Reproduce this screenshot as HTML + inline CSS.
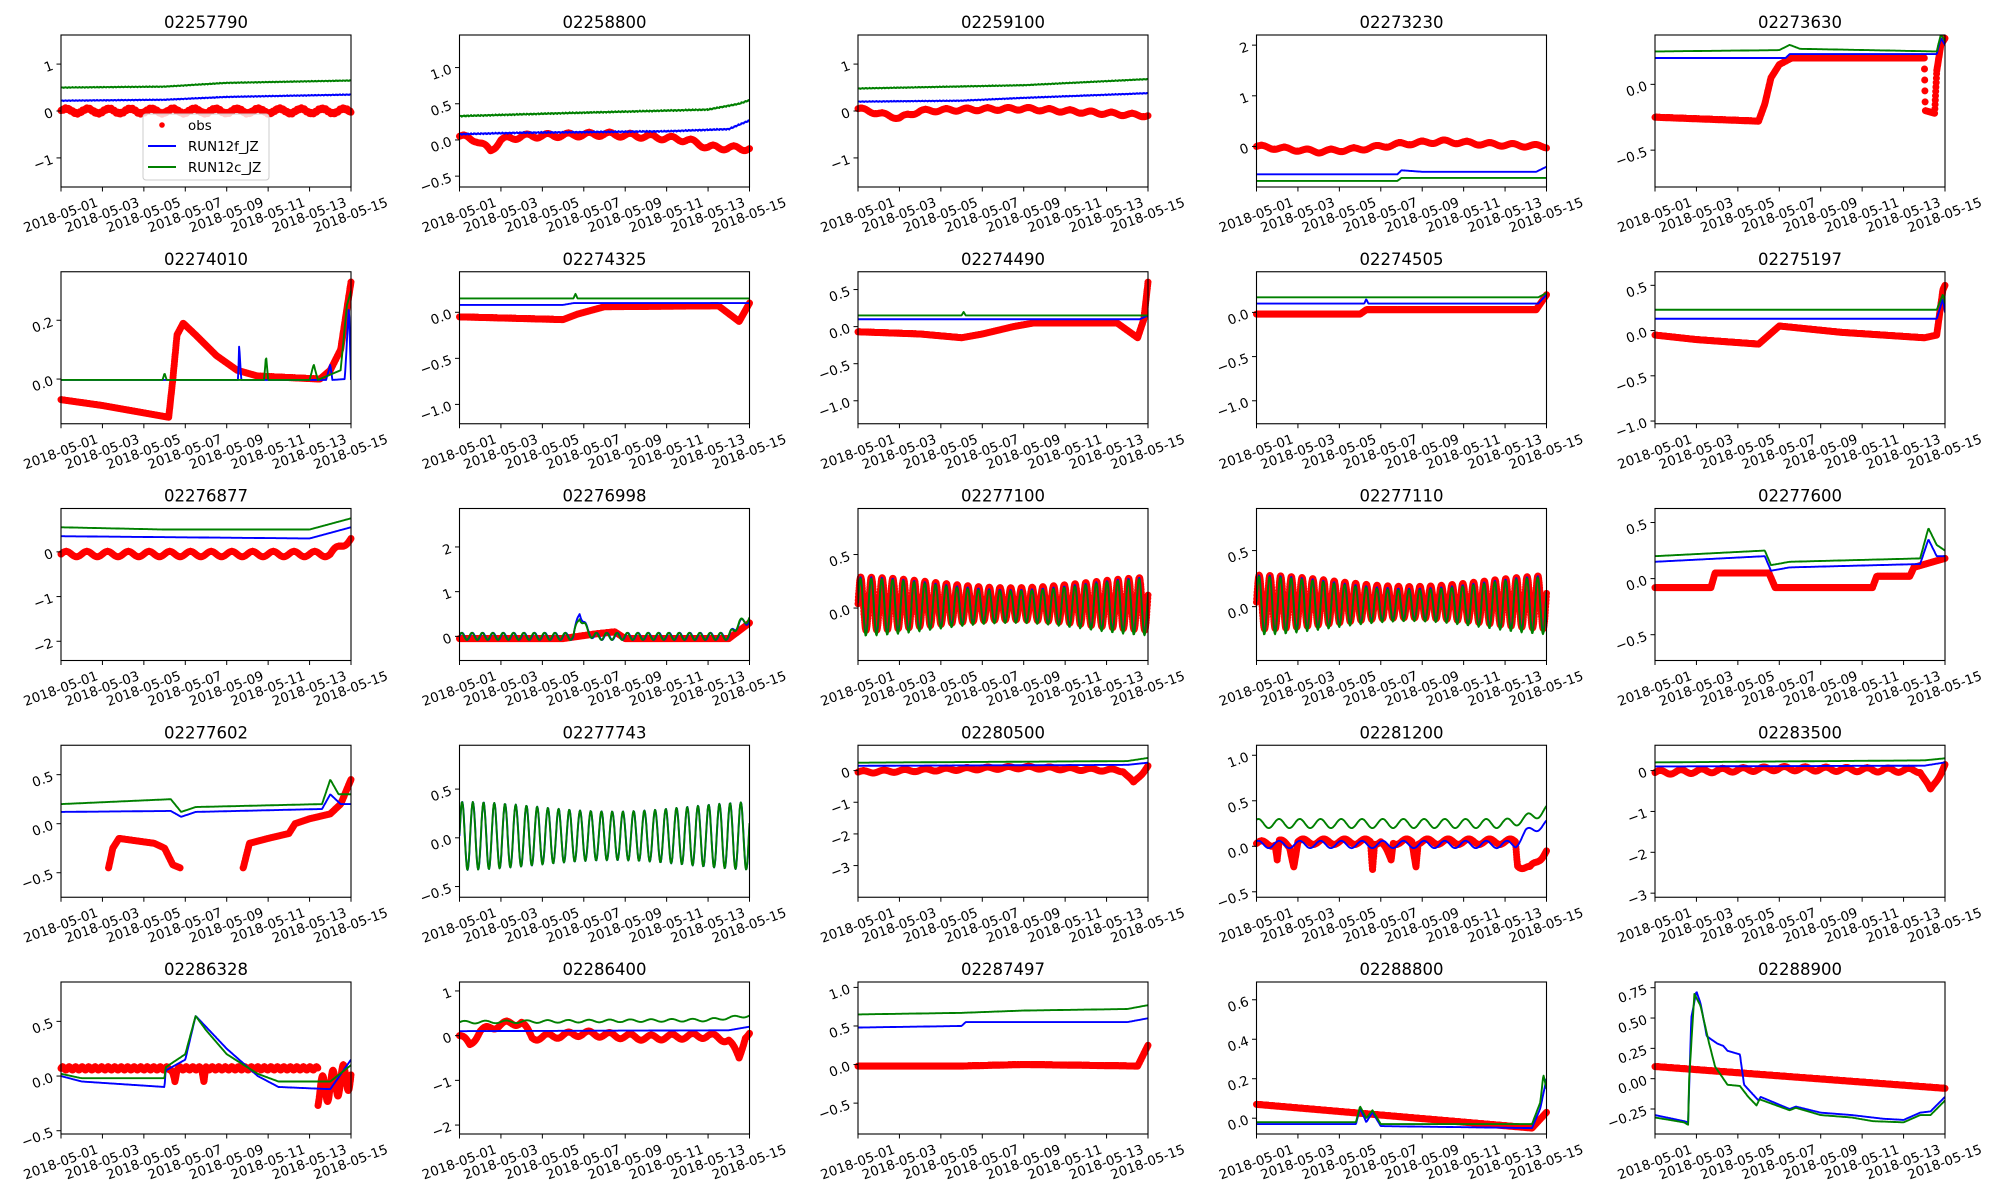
<!DOCTYPE html>
<html><head><meta charset="utf-8"><style>
html,body{margin:0;padding:0;background:#fff;width:2000px;height:1200px;overflow:hidden}
svg{display:block}
text{font-family:"DejaVu Sans","Liberation Sans",sans-serif;fill:#000}
</style></head><body>
<svg id="s" width="2000" height="1200" xmlns="http://www.w3.org/2000/svg"></svg>
<script>
const W=290,H=152;
function pw(p){return t=>{if(t<=p[0][0])return p[0][1];for(let i=1;i<p.length;i++){if(t<=p[i][0]){const a=p[i-1],b=p[i];return a[1]+(b[1]-a[1])*(t-a[0])/(b[0]-a[0]||1);}}return p[p.length-1][1];};}
function wig(a,per,ph){ph=ph||0;return t=>a*Math.sin(2*Math.PI*t/per+ph);}
function jit(a){return t=>a*(Math.sin(37*t)+Math.sin(91*t+1))/2;}
function S(...f){return t=>f.reduce((s,g)=>s+g(t),0);}
function gap(f,ranges){return t=>{for(const r of ranges)if(t>=r[0]&&t<=r[1])return NaN;return f(t);};}
function tide(off,a0,a1,ph){return t=>off+(a0+a1*Math.cos(2*Math.PI*t/14.8))*Math.sin(2*Math.PI*t/0.5175+ph);}
const M="\u2212";
const P=[
{t:"02257790",y:[-1.62,1.62],yt:[[1,"1"],[0,"0"],[-1,M+"1"]],
 o:S(wig(0.05,1.03),jit(0.02)),b:S(pw([[0,0.22],[5,0.24],[8,0.3],[14,0.35]]),jit(0.01)),g:S(pw([[0,0.5],[5,0.52],[8,0.6],[14,0.65]]),jit(0.01))},
{t:"02258800",y:[-0.65,1.45],yt:[[1,"1.0"],[0.5,"0.5"],[0,"0.0"],[-0.5,M+"0.5"]],
 o:S(pw([[0,0.05],[0.8,0],[1.5,-0.15],[2,0],[3,0.05],[7,0.08],[9,0.05],[11,0],[12,-0.1],[14,-0.12]]),wig(0.03,1)),b:S(pw([[0,0.08],[3,0.1],[10,0.12],[13,0.15],[14,0.27]]),jit(0.01)),g:S(pw([[0,0.33],[5,0.37],[12,0.42],[13.5,0.5],[14,0.55]]),jit(0.01))},
{t:"02259100",y:[-1.62,1.62],yt:[[1,"1"],[0,"0"],[-1,M+"1"]],
 o:S(pw([[0,0.05],[1,-0.05],[2,-0.15],[3,0],[5,0.03],[8,0.05],[10,0],[14,-0.1]]),wig(0.03,1)),b:S(pw([[0,0.2],[5,0.22],[8,0.28],[14,0.38]]),jit(0.01)),g:S(pw([[0,0.48],[8,0.55],[14,0.68]]),jit(0.01))},
{t:"02273230",y:[-0.8,2.2],yt:[[2,"2"],[1,"1"],[0,"0"]],
 o:S(pw([[0,0],[3,-0.1],[5,-0.05],[7,0.05],[9,0.1],[11,0.05],[14,0]]),wig(0.03,1.1)),b:pw([[0,-0.55],[6.8,-0.55],[7,-0.47],[8,-0.5],[13.5,-0.5],[14,-0.4]]),g:pw([[0,-0.68],[6.8,-0.68],[7,-0.62],[14,-0.62]])},
{t:"02273630",y:[-0.78,0.375],yt:[[0,"0.0"],[-0.5,M+"0.5"]],
 o:pw([[0,-0.25],[5,-0.28],[5.3,-0.15],[5.6,0.05],[6,0.15],[6.6,0.2],[13,0.2],[13.05,-0.2],[13.5,-0.22],[13.6,0.1],[13.8,0.3],[14,0.35]]),b:pw([[0,0.2],[6.3,0.2],[6.5,0.23],[13.6,0.23],[13.8,0.35],[14,0.3]]),g:pw([[0,0.25],[6,0.26],[6.5,0.3],[7,0.27],[13.6,0.25],[13.8,0.38],[14,0.33]])},
{t:"02274010",y:[-0.152,0.365],yt:[[0.2,"0.2"],[0,"0.0"]],
 o:pw([[0,-0.07],[2,-0.09],[5.2,-0.13],[5.4,0],[5.6,0.15],[5.9,0.19],[6.5,0.15],[7.5,0.08],[8.5,0.03],[9.5,0.01],[12.5,0],[13,0.03],[13.5,0.1],[14,0.33]]),
 b:pw([[0,-0.003],[8.55,-0.003],[8.6,0.12],[8.7,-0.003],[12.8,-0.003],[13,0.05],[13.1,-0.003],[13.7,0],[13.9,0.25],[14,-0.003]]),
 g:pw([[0,-0.003],[4.9,-0.003],[5,0.02],[5.1,-0.003],[9.8,-0.003],[9.9,0.08],[10,-0.003],[12,-0.003],[12.2,0.05],[12.4,-0.003],[13.5,0.03],[13.8,0.25],[14,0.3]])},
{t:"02274325",y:[-1.21,0.44],yt:[[0,"0.0"],[-0.5,M+"0.5"],[-1,M+"1.0"]],
 o:pw([[0,-0.05],[5,-0.08],[5.7,-0.02],[7,0.06],[12.5,0.07],[13.5,-0.1],[14,0.1]]),b:pw([[0,0.08],[5,0.08],[5.5,0.1],[14,0.1]]),g:pw([[0,0.15],[5.5,0.15],[5.6,0.2],[5.7,0.15],[14,0.15]])},
{t:"02274490",y:[-1.31,0.74],yt:[[0.5,"0.5"],[0,"0.0"],[-0.5,M+"0.5"],[-1,M+"1.0"]],
 o:pw([[0,-0.07],[3,-0.1],[5,-0.15],[6,-0.1],[7.5,0],[8.5,0.05],[12.5,0.05],[13.5,-0.15],[13.8,0.1],[14,0.6]]),b:pw([[0,0.1],[13.6,0.1],[14,0.15]]),g:pw([[0,0.15],[5,0.15],[5.1,0.2],[5.2,0.15],[14,0.15]])},
{t:"02274505",y:[-1.26,0.46],yt:[[0,"0.0"],[-0.5,M+"0.5"],[-1,M+"1.0"]],
 o:pw([[0,-0.02],[5,-0.02],[5.3,0.03],[13.5,0.03],[14,0.2]]),b:pw([[0,0.1],[5.2,0.1],[5.3,0.15],[5.4,0.1],[13.6,0.1],[14,0.2]]),g:pw([[0,0.17],[13.6,0.17],[14,0.22]])},
{t:"02275197",y:[-1.03,0.65],yt:[[0.5,"0.5"],[0,"0.0"],[-0.5,M+"0.5"],[-1,M+"1.0"]],
 o:pw([[0,-0.05],[2,-0.1],[5,-0.15],[5.5,-0.05],[6,0.05],[9,-0.02],[13,-0.08],[13.6,-0.05],[13.9,0.45],[14,0.5]]),b:pw([[0,0.13],[13.6,0.13],[13.9,0.35],[14,0.2]]),g:pw([[0,0.23],[13.6,0.23],[13.9,0.4],[14,0.3]])},
{t:"02276877",y:[-2.43,0.97],yt:[[0,"0"],[-1,M+"1"],[-2,M+"2"]],
 o:S(pw([[0,-0.05],[13,-0.05],[14,0.3]]),wig(0.06,1)),b:pw([[0,0.35],[12,0.3],[14,0.55]]),g:pw([[0,0.55],[5,0.5],[12,0.5],[14,0.75]])},
{t:"02276998",y:[-0.54,2.86],yt:[[2,"2"],[1,"1"],[0,"0"]],
 o:pw([[0,-0.05],[5,-0.05],[6.5,0.05],[7.5,0.1],[8,-0.05],[13,-0.05],[14,0.3]]),
 b:S(wig(0.08,0.5),pw([[0,0],[5.5,0],[5.8,0.55],[6.2,0.1],[6.5,0],[13,0],[13.5,0.3],[14,0.35]])),
 g:S(wig(0.08,0.5,0.3),pw([[0,0],[5.5,0],[5.8,0.45],[6.2,0.1],[6.5,0],[13,0],[13.5,0.3],[14,0.4]]))},
{t:"02277100",y:[-0.49,0.93],yt:[[0.5,"0.5"],[0,"0.0"]],o:tide(0.04,0.2,0.05,0),b:tide(0.02,0.21,0.06,0.1),g:tide(0.01,0.21,0.06,0.15)},
{t:"02277110",y:[-0.48,0.875],yt:[[0.5,"0.5"],[0,"0.0"]],o:tide(0.04,0.19,0.05,0),b:tide(0.02,0.2,0.06,0.1),g:tide(0.01,0.2,0.06,0.15)},
{t:"02277600",y:[-0.73,0.625],yt:[[0.5,"0.5"],[0,"0.0"],[-0.5,M+"0.5"]],
 o:pw([[0,-0.08],[2.7,-0.08],[2.9,0.05],[5.5,0.05],[5.8,-0.08],[10.5,-0.08],[10.7,0.02],[12.3,0.02],[12.5,0.1],[14,0.18]]),
 b:pw([[0,0.15],[5.3,0.2],[5.6,0.07],[6.5,0.1],[12.8,0.13],[13.2,0.35],[13.6,0.2],[14,0.2]]),g:pw([[0,0.2],[5.3,0.25],[5.6,0.12],[6.5,0.15],[12.8,0.18],[13.2,0.45],[13.6,0.3],[14,0.25]])},
{t:"02277602",y:[-0.75,0.8],yt:[[0.5,"0.5"],[0,"0.0"],[-0.5,M+"0.5"]],
 o:gap(pw([[2.3,-0.45],[2.5,-0.25],[2.8,-0.15],[4.5,-0.2],[5,-0.25],[5.4,-0.42],[5.75,-0.45],[8.8,-0.45],[9.1,-0.2],[10,-0.15],[11,-0.1],[11.3,0],[12,0.05],[13,0.1],[13.5,0.2],[14,0.45]]),[[0,2.29],[5.76,8.79]]),
 b:pw([[0,0.12],[5.3,0.13],[5.8,0.07],[6.5,0.12],[12.6,0.15],[13,0.3],[13.5,0.2],[14,0.2]]),g:pw([[0,0.2],[5.3,0.25],[5.8,0.12],[6.5,0.17],[12.6,0.2],[13,0.45],[13.4,0.3],[14,0.3]])},
{t:"02277743",y:[-0.61,0.95],yt:[[0.5,"0.5"],[0,"0.0"],[-0.5,M+"0.5"]],o:null,b:tide(0.02,0.3,0.05,0),g:tide(0.02,0.3,0.05,0.05)},
{t:"02280500",y:[-4.0,0.8],yt:[[0,"0"],[-1,M+"1"],[-2,M+"2"],[-3,M+"3"]],
 o:S(pw([[0,-0.05],[5,0.05],[8,0.1],[12.8,0],[13.3,-0.4],[14,0.15]]),wig(0.04,1)),b:pw([[0,0.15],[13,0.18],[14,0.25]]),g:pw([[0,0.25],[13,0.3],[14,0.4]])},
{t:"02281200",y:[-0.56,1.11],yt:[[1,"1.0"],[0.5,"0.5"],[0,"0.0"],[-0.5,M+"0.5"]],
 o:S(pw([[0,0.03],[0.9,0.03],[1,-0.15],[1.1,0.05],[1.6,0],[1.8,-0.2],[2,0.05],[5,0.05],[5.5,0.05],[5.6,-0.25],[5.7,0.05],[6,0.05],[6.5,-0.15],[6.6,0.05],[7.5,0.05],[7.7,-0.2],[7.8,0.05],[12.5,0.05],[12.6,-0.2],[13.2,-0.25],[14,-0.05]]),wig(0.03,1)),
 b:S(pw([[0,0.02],[12.5,0.02],[13,0.15],[14,0.25]]),wig(0.04,1,1)),g:S(pw([[0,0.25],[12,0.25],[13,0.3],[14,0.4]]),wig(0.05,1,1))},
{t:"02283500",y:[-3.1,0.62],yt:[[0,"0"],[-1,M+"1"],[-2,M+"2"],[-3,M+"3"]],
 o:S(pw([[0,-0.05],[6,0.05],[12.8,0],[13.3,-0.5],[14,0.15]]),wig(0.05,1)),b:pw([[0,0.1],[13,0.12],[14,0.2]]),g:pw([[0,0.2],[13,0.25],[14,0.3]])},
{t:"02286328",y:[-0.53,0.86],yt:[[0.5,"0.5"],[0,"0.0"],[-0.5,M+"0.5"]],
 o:t=>{if(t>12.4)return -0.15+0.13*Math.sin(2*Math.PI*t/0.5)+0.1*(t-12.4);return pw([[0,0.07],[5.3,0.07],[5.5,-0.05],[5.6,0.07],[6.8,0.07],[6.9,-0.05],[7,0.07],[12.4,0.07]])(t)+0.015*Math.sin(20*t);},
 b:pw([[0,0],[1,-0.05],[5,-0.1],[5.05,0.05],[6,0.15],[6.5,0.55],[7,0.45],[8,0.25],[9.5,0],[10.5,-0.1],[13,-0.12],[14,0.15]]),g:pw([[0,0.02],[1,-0.02],[5,-0.02],[5.05,0.08],[6,0.2],[6.5,0.55],[7,0.42],[8,0.2],[9.5,0.02],[10.5,-0.05],[13,-0.05],[14,0.1]])},
{t:"02286400",y:[-2.2,1.2],yt:[[1,"1"],[0,"0"],[-1,M+"1"],[-2,M+"2"]],
 o:S(pw([[0,0],[0.5,-0.2],[1,0.1],[2,0.25],[3,0.3],[3.5,-0.05],[6,0.05],[9,-0.05],[12,0],[13,-0.1],[13.5,-0.5],[13.8,0],[14,0.05]]),wig(0.06,1)),b:pw([[0,0.1],[13,0.12],[14,0.2]]),g:S(pw([[0,0.3],[12,0.35],[14,0.45]]),wig(0.03,1))},
{t:"02287497",y:[-0.9,1.07],yt:[[1,"1.0"],[0.5,"0.5"],[0,"0.0"],[-0.5,M+"0.5"]],
 o:pw([[0,-0.02],[5,-0.02],[8,0],[13.5,-0.02],[14,0.25]]),b:pw([[0,0.48],[5,0.5],[5.2,0.55],[13,0.55],[14,0.6]]),g:pw([[0,0.65],[5,0.67],[8,0.7],[13,0.72],[14,0.77]])},
{t:"02288800",y:[-0.08,0.69],yt:[[0.6,"0.6"],[0.4,"0.4"],[0.2,"0.2"],[0,"0.0"]],
 o:pw([[0,0.07],[13.3,-0.05],[14,0.03]]),b:pw([[0,-0.03],[4.8,-0.03],[5,0.05],[5.3,-0.02],[5.6,0.03],[6,-0.04],[13.3,-0.05],[13.7,0.05],[14,0.2]]),g:pw([[0,-0.02],[4.8,-0.02],[5,0.06],[5.3,0],[5.6,0.04],[6,-0.03],[13.3,-0.03],[13.7,0.08],[13.85,0.22],[14,0.15]])},
{t:"02288900",y:[-0.456,0.797],yt:[[0.75,"0.75"],[0.5,"0.50"],[0.25,"0.25"],[0,"0.00"],[-0.25,M+"0.25"]],
 o:pw([[0,0.1],[14,-0.08]]),
 b:pw([[0,-0.3],[1.4,-0.35],[1.6,-0.36],[1.75,0.5],[2.0,0.72],[2.2,0.62],[2.5,0.35],[3,0.29],[3.3,0.27],[3.5,0.23],[4.1,0.2],[4.3,-0.05],[5,-0.18],[5.1,-0.15],[6.5,-0.25],[6.8,-0.23],[8,-0.28],[9.5,-0.3],[11,-0.33],[12,-0.34],[12.8,-0.28],[13.3,-0.27],[14,-0.15]]),
 g:pw([[0,-0.32],[1.4,-0.36],[1.6,-0.38],[1.65,0.0],[1.9,0.7],[2.2,0.6],[2.6,0.3],[2.9,0.1],[3.5,-0.05],[4.1,-0.06],[4.5,-0.15],[4.9,-0.22],[5.05,-0.17],[6.5,-0.26],[6.8,-0.24],[8,-0.3],[9.5,-0.32],[10.5,-0.35],[12,-0.36],[12.8,-0.3],[13.3,-0.3],[14,-0.18]])}
];
let out=`<clipPath id="c0"><rect x="-4" y="-4" width="${W+8}" height="${H+8}"/></clipPath><clipPath id="c1"><rect x="0" y="0" width="${W}" height="${H}"/></clipPath>`;
const N=500;
function path(f,ylo,yhi){let d="",pen=false;for(let i=0;i<=N;i++){const t=14*i/N,v=f(t);if(isNaN(v)){pen=false;continue;}const x=(t/14*W).toFixed(1),y=((yhi-v)/(yhi-ylo)*H).toFixed(1);d+=(pen?"L":"M")+x+" "+y;pen=true;}return d;}
function dots(f,ylo,yhi){let d="";const n=1344;for(let i=0;i<=n;i++){const t=14*i/n,v=f(t);if(isNaN(v))continue;const x=(t/14*W).toFixed(1),y=((yhi-v)/(yhi-ylo)*H).toFixed(1);d+=`M${x} ${y}h0`;}return d;}
P.forEach((p,k)=>{const r=Math.floor(k/5),c=k%5;const L=61+398.5*c,T=35+236.75*r;
 let g=`<g transform="translate(${L},${T})">`;
 g+=`<text x="${W/2}" y="-7" font-size="16.5" text-anchor="middle">${p.t}</text>`;
 g+=`<g clip-path="url(#c0)">`;
 if(p.o)g+=`<path d="${dots(p.o,p.y[0],p.y[1])}" fill="none" stroke="#f00" stroke-width="7" stroke-linecap="round"/>`;
 g+=`</g><g clip-path="url(#c1)">`;
 g+=`<path d="${path(p.b,p.y[0],p.y[1])}" fill="none" stroke="#00f" stroke-width="1.9" stroke-linejoin="round"/>`;
 g+=`<path d="${path(p.g,p.y[0],p.y[1])}" fill="none" stroke="#008000" stroke-width="1.9" stroke-linejoin="round"/>`;
 g+=`</g><rect x="0" y="0" width="${W}" height="${H}" fill="none" stroke="#000" stroke-width="1.1"/>`;
 for(let d=1;d<=15;d+=2){const x=((d-1)/14*W);g+=`<line x1="${x}" y1="${H}" x2="${x}" y2="${H+4.5}" stroke="#000" stroke-width="1"/>`;
  const lab="2018-05-"+(d<10?"0":"")+d;g+=`<text transform="translate(${x},${H+29}) rotate(-20)" font-size="13.4" text-anchor="middle" dominant-baseline="central">${lab}</text>`;}
 p.yt.forEach(([v,l])=>{const y=(p.y[1]-v)/(p.y[1]-p.y[0])*H;g+=`<line x1="-4.5" y1="${y}" x2="0" y2="${y}" stroke="#000" stroke-width="1"/>`;
  g+=`<text transform="translate(-8,${y+2}) rotate(-20)" font-size="13.4" text-anchor="end" dominant-baseline="central">${l}</text>`;});
 if(k===0){g+=`<rect x="82" y="79" width="126" height="66" rx="3" fill="#fff" fill-opacity="0.8" stroke="#ccc" stroke-width="1"/>`;
  g+=`<circle cx="101" cy="90" r="2.8" fill="#f00"/><text x="127" y="95" font-size="13.4">obs</text>`;
  g+=`<line x1="87" y1="111" x2="115" y2="111" stroke="#00f" stroke-width="1.9"/><text x="127" y="116" font-size="13.4">RUN12f_JZ</text>`;
  g+=`<line x1="87" y1="132" x2="115" y2="132" stroke="#008000" stroke-width="1.9"/><text x="127" y="137" font-size="13.4">RUN12c_JZ</text>`;}
 g+=`</g>`;out+=g;});
document.getElementById("s").innerHTML=out;
</script>
</body></html>
